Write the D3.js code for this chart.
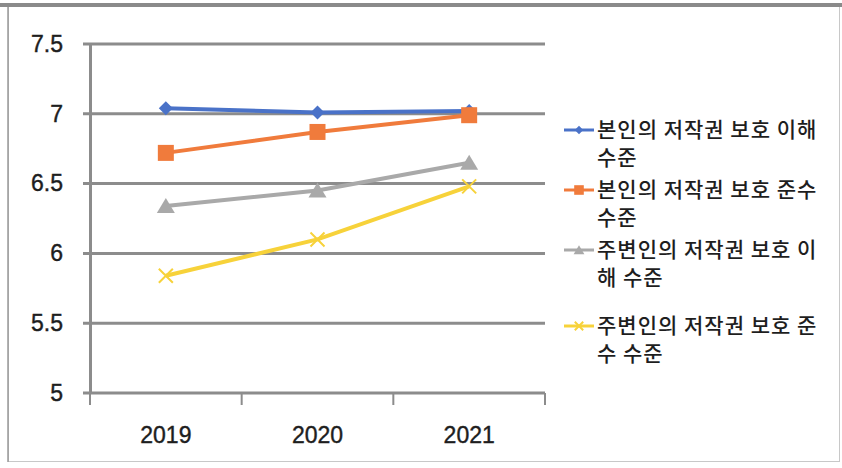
<!DOCTYPE html>
<html>
<head>
<meta charset="utf-8">
<script src="https://cdn.jsdelivr.net/npm/d3@7"></script>
<style>
  body { margin: 0; background: #fff; }
  svg text { font-family: "Liberation Sans", Arial, sans-serif; fill: #1e1e1e; }
  .legend text { font-family: "Noto Sans CJK KR", sans-serif; font-weight: 500; }
</style>
</head>
<body>
<div id="chart"></div>
<script>
// chart data
var years = ['2019', '2020', '2021'];
var seriesNames = [
  ['본인의 저작권 보호 이해', '수준'],
  ['본인의 저작권 보호 준수', '수준'],
  ['주변인의 저작권 보호 이', '해 수준'],
  ['주변인의 저작권 보호 준', '수 수준']
];
var understandSelf = [7.04, 7.01, 7.02];
var complySelf = [6.72, 6.87, 6.99];
var understandOthers = [6.34, 6.45, 6.65];
var complyOthers = [5.84, 6.10, 6.48];
var yTicks = [5, 5.5, 6, 6.5, 7, 7.5];

var allSeries = [understandSelf, complySelf, understandOthers, complyOthers];
var colors = ['#4a72c8', '#f07b3c', '#a9a9a9', '#f7d23a'];
var shapes = ['diamond', 'square', 'triangle', 'cross'];

var width = 842, height = 468;

var svg = d3.select('#chart').append('svg')
  .attr('width', width)
  .attr('height', height);

// outer frame
svg.append('rect')
  .attr('x', 8.5).attr('y', 6.5)
  .attr('width', 831).attr('height', 455)
  .attr('fill', 'none')
  .attr('stroke', '#c8c8c8');
svg.append('line')
  .attr('x1', 8).attr('x2', 8)
  .attr('y1', 6).attr('y2', 462)
  .attr('stroke', '#9a9a9a')
  .attr('stroke-width', 1.5);
svg.append('line')
  .attr('x1', 0).attr('x2', width)
  .attr('y1', 5).attr('y2', 5)
  .attr('stroke', '#8a8a8a')
  .attr('stroke-width', 4);

var xScale = d3.scaleBand()
  .domain(years)
  .range([90, 545]);

var yScale = d3.scaleLinear()
  .domain([5, 7.5])
  .range([393, 44]);

// grid lines
svg.append('g')
  .selectAll('line')
  .data(yTicks)
  .enter().append('line')
  .attr('x1', 83).attr('x2', 545)
  .attr('y1', function(d) { return yScale(d); })
  .attr('y2', function(d) { return yScale(d); })
  .attr('stroke', '#8c8c8c')
  .attr('stroke-width', 3);

// y axis
var yAxis = svg.append('g')
  .attr('transform', 'translate(90,0)')
  .call(d3.axisLeft(yScale).tickValues(yTicks).tickSize(0).tickPadding(27)
    .tickFormat(function(d) { return d; }));
yAxis.select('.domain').attr('stroke', '#8c8c8c').attr('stroke-width', 3);
yAxis.selectAll('text')
  .attr('font-size', 23)
  .attr('font-family', '"Liberation Sans", Arial, sans-serif')
  .attr('stroke', '#1e1e1e').attr('stroke-width', 0.4);

// x axis
var xAxis = svg.append('g')
  .attr('transform', 'translate(0,393)')
  .call(d3.axisBottom(xScale).tickSize(0).tickPadding(34));
xAxis.select('.domain').remove();
xAxis.selectAll('text')
  .attr('font-size', 23)
  .attr('font-family', '"Liberation Sans", Arial, sans-serif')
  .attr('stroke', '#1e1e1e').attr('stroke-width', 0.4);

// x tick marks on category boundaries
var bounds = [90].concat(years.map(function(y) { return xScale(y) + xScale.bandwidth(); }));
svg.append('g')
  .selectAll('line')
  .data(bounds)
  .enter().append('line')
  .attr('x1', function(d) { return d; })
  .attr('x2', function(d) { return d; })
  .attr('y1', 393).attr('y2', 405)
  .attr('stroke', '#8c8c8c')
  .attr('stroke-width', 2);

function xPos(i) { return xScale(years[i]) + xScale.bandwidth() / 2; }

function drawMarker(g, shape, color, x, y, s) {
  if (shape === 'diamond') {
    g.append('path')
      .attr('d', 'M' + x + ',' + (y - 7 * s) + 'L' + (x + 7 * s) + ',' + y + 'L' + x + ',' + (y + 7 * s) + 'L' + (x - 7 * s) + ',' + y + 'Z')
      .attr('fill', color);
  } else if (shape === 'square') {
    g.append('rect')
      .attr('x', x - 8 * s).attr('y', y - 8 * s)
      .attr('width', 16 * s).attr('height', 16 * s)
      .attr('fill', color);
  } else if (shape === 'triangle') {
    g.append('path')
      .attr('d', 'M' + x + ',' + (y - 8 * s) + 'L' + (x + 9 * s) + ',' + (y + 7 * s) + 'L' + (x - 9 * s) + ',' + (y + 7 * s) + 'Z')
      .attr('fill', color);
  } else {
    g.append('path')
      .attr('d', 'M' + (x - 7 * s) + ',' + (y - 7 * s) + 'L' + (x + 7 * s) + ',' + (y + 7 * s) +
        'M' + (x + 7 * s) + ',' + (y - 7 * s) + 'L' + (x - 7 * s) + ',' + (y + 7 * s))
      .attr('stroke', color)
      .attr('stroke-width', 2);
  }
}

var line = d3.line()
  .x(function(d, i) { return xPos(i); })
  .y(function(d) { return yScale(d); });

allSeries.forEach(function(values, k) {
  var g = svg.append('g');
  g.append('path')
    .datum(values)
    .attr('d', line)
    .attr('fill', 'none')
    .attr('stroke', colors[k])
    .attr('stroke-width', 4);
  values.forEach(function(v, i) {
    drawMarker(g, shapes[k], colors[k], xPos(i), yScale(v), 1);
  });
});

// legend
var legendY = [130, 190, 250, 326];
var legend = svg.append('g').attr('class', 'legend');
seriesNames.forEach(function(name, k) {
  var y = legendY[k];
  legend.append('line')
    .attr('x1', 564).attr('x2', 594)
    .attr('y1', y).attr('y2', y)
    .attr('stroke', colors[k])
    .attr('stroke-width', 3);
  drawMarker(legend, shapes[k], colors[k], 579, y, 0.6);
  name.forEach(function(t, j) {
    legend.append('text')
      .attr('x', 597)
      .attr('y', y + 7 + j * 28)
      .attr('font-size', 21)
      .attr('letter-spacing', 1)
      .text(t);
  });
});
</script>
</body>
</html>
